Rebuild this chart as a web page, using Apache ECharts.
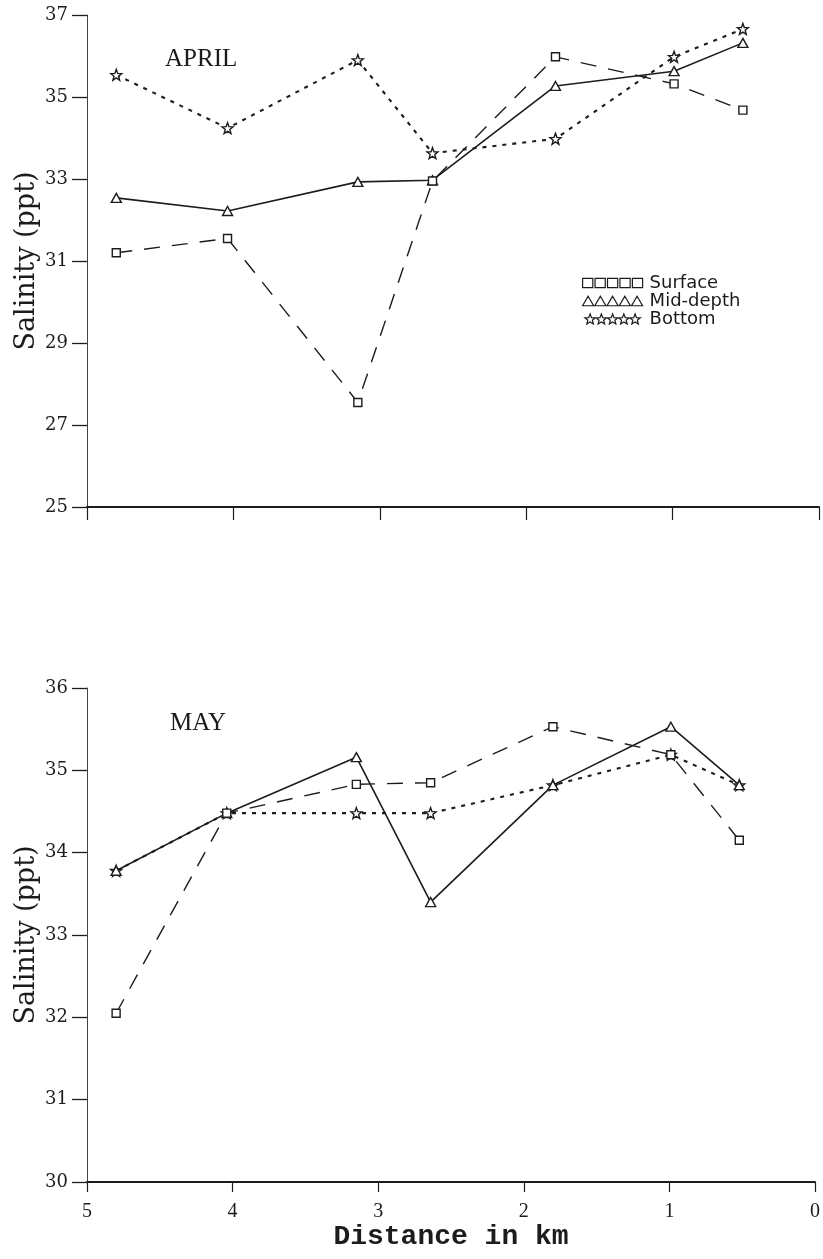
<!DOCTYPE html>
<html>
<head>
<meta charset="utf-8">
<script src="https://cdn.jsdelivr.net/npm/echarts@6/dist/echarts.min.js"></script>
<style>
  html, body { margin: 0; padding: 0; background: #ffffff; }
  #chart { width: 823px; height: 1259px; }
</style>
</head>
<body>
<div id="chart"></div>
<script>
// Sampling stations, distance from the mouth (km)
const stations = [4.8, 4.04, 3.15, 2.64, 1.8, 0.99, 0.52];

// April salinity (ppt)
const aprilSurface = [31.2, 31.55, 27.55, 32.95, 35.98, 35.32, 34.68];
const aprilMid     = [32.54, 32.22, 32.93, 32.97, 35.27, 35.63, 36.32];
const aprilBottom  = [35.54, 34.24, 35.9, 33.63, 33.98, 35.98, 36.66];

// May salinity (ppt)
const maySurface = [32.05, 34.48, 34.83, 34.85, 35.53, 35.19, 34.15];
const mayMid     = [33.78, 34.48, 35.16, 33.4, 34.82, 35.53, 34.82];
const mayBottom  = [33.78, 34.48, 34.48, 34.48, 34.82, 35.19, 34.82];

const layerNames = ['Surface', 'Mid-depth', 'Bottom'];
const panelTitles = ['APRIL', 'MAY'];
const xTicks = [0, 1, 2, 3, 4, 5];

const ink = '#1c1c1c';

// Five-pointed star outline as an SVG path
function starPath(cx, cy, R, r) {
  let d = '';
  for (let k = 0; k < 10; k++) {
    const rad = k % 2 === 0 ? R : r;
    const a = -Math.PI / 2 + k * Math.PI / 5;
    const px = (cx + rad * Math.cos(a)).toFixed(2);
    const py = (cy + rad * Math.sin(a)).toFixed(2);
    d += (k === 0 ? 'M' : 'L') + px + ',' + py;
  }
  return d + 'Z';
}
function squarePath(x) { return `M${x},1L${x + 10},1L${x + 10},10L${x},10Z`; }
function trianglePath(x) { return `M${x + 5.5},0.5L${x + 11},10L${x},10Z`; }
function starShape(x) { return starPath(x + 6, 5.8, 6, 2.6); }

// Legend keys: a row of five marker glyphs
function repeatGlyph(fn) {
  let d = '';
  for (let i = 0; i < 5; i++) d += fn(i * 12.2);
  return 'path://' + d;
}

const markerFor = {
  'Surface':   { symbol: 'rect', symbolSize: 8 },
  'Mid-depth': { symbol: 'triangle', symbolSize: [10, 9] },
  'Bottom':    { symbol: 'path://' + starPath(6, 6, 6, 2.5), symbolSize: 11 }
};
const lineFor = {
  'Surface':   { type: [16, 12], width: 1.4 },
  'Mid-depth': { type: 'solid', width: 1.6 },
  'Bottom':    { type: [4, 6], width: 2.1 }
};

const panelData = [
  [aprilSurface, aprilMid, aprilBottom],
  [maySurface, mayMid, mayBottom]
];

const series = [];
panelData.forEach((sets, p) => {
  sets.forEach((vals, s) => {
    const name = layerNames[s];
    series.push({
      name: name,
      type: 'line',
      xAxisIndex: p,
      yAxisIndex: p,
      data: stations.map((x, i) => [x, vals[i]]),
      symbol: markerFor[name].symbol,
      symbolSize: markerFor[name].symbolSize,
      showAllSymbol: true,
      itemStyle: { color: '#ffffff', borderColor: ink, borderWidth: 1.4 },
      lineStyle: { color: ink, type: lineFor[name].type, width: lineFor[name].width },
      emphasis: { disabled: true },
      animation: false,
      z: 3 - s
    });
  });
});

const yTickFont = { fontFamily: 'DejaVu Serif', fontSize: 18, color: ink };
const yNameFont = { fontFamily: 'DejaVu Serif', fontSize: 27, color: ink };

function yAxis(gridIndex, min, max, interval) {
  return {
    type: 'value', gridIndex, min, max, interval, position: 'left',
    name: 'Salinity (ppt)', nameLocation: 'middle', nameGap: 47, nameRotate: 90,
    nameMoveOverlap: false,
    nameTextStyle: yNameFont,
    axisLine: { show: true, onZero: false, lineStyle: { color: '#444', width: 1 } },
    axisTick: { show: true, inside: false, length: 15, lineStyle: { color: ink, width: 1.3 } },
    axisLabel: Object.assign({ margin: 19 }, yTickFont),
    splitLine: { show: false }
  };
}

function xAxis(gridIndex, withLabels) {
  return {
    type: 'value', gridIndex, min: 0, max: 5, interval: 1, inverse: true, position: 'bottom',
    name: withLabels ? 'Distance in km' : '',
    nameLocation: 'middle', nameGap: 41,
    nameMoveOverlap: false,
    nameTextStyle: { fontFamily: 'Liberation Mono', fontSize: 28, fontWeight: 'bold', color: ink },
    axisLine: { show: true, onZero: false, lineStyle: { color: ink, width: 2 } },
    axisTick: { show: true, inside: false, length: withLabels ? 10 : 13, lineStyle: { color: ink, width: 1.2 } },
    axisLabel: {
      show: withLabels, margin: 20,
      fontFamily: 'Liberation Serif', fontSize: 20, color: ink,
      formatter: v => xTicks.includes(v) ? String(v) : ''
    },
    splitLine: { show: false }
  };
}

const option = {
  backgroundColor: '#ffffff',
  animation: false,
  title: [
    { text: panelTitles[0], left: 160, top: 42,
      textStyle: { fontFamily: 'Liberation Serif', fontSize: 25, fontWeight: 'normal', color: ink } },
    { text: panelTitles[1], left: 165, top: 706,
      textStyle: { fontFamily: 'Liberation Serif', fontSize: 25, fontWeight: 'normal', color: ink } }
  ],
  legend: {
    orient: 'vertical',
    left: 577, top: 269,
    itemWidth: 60, itemHeight: 10, itemGap: 0,
    selectedMode: false,
    textStyle: { fontFamily: 'DejaVu Sans', fontSize: 18, color: ink, padding: [0, 0, 0, 2] },
    itemStyle: { color: '#ffffff', borderColor: ink, borderWidth: 1.2 },
    data: [
      { name: 'Surface', icon: repeatGlyph(squarePath) },
      { name: 'Mid-depth', icon: repeatGlyph(trianglePath) },
      { name: 'Bottom', icon: repeatGlyph(starShape) }
    ]
  },
  grid: [
    { left: 87, right: 4, top: 15, height: 492, containLabel: false },
    { left: 87, right: 4, top: 688, height: 494, containLabel: false }
  ],
  xAxis: [xAxis(0, false), xAxis(1, true)],
  yAxis: [yAxis(0, 25, 37, 2), yAxis(1, 30, 36, 1)],
  series: series
};

const chart = echarts.init(document.getElementById('chart'), null, { renderer: 'canvas' });
chart.setOption(option);
</script>
</body>
</html>
